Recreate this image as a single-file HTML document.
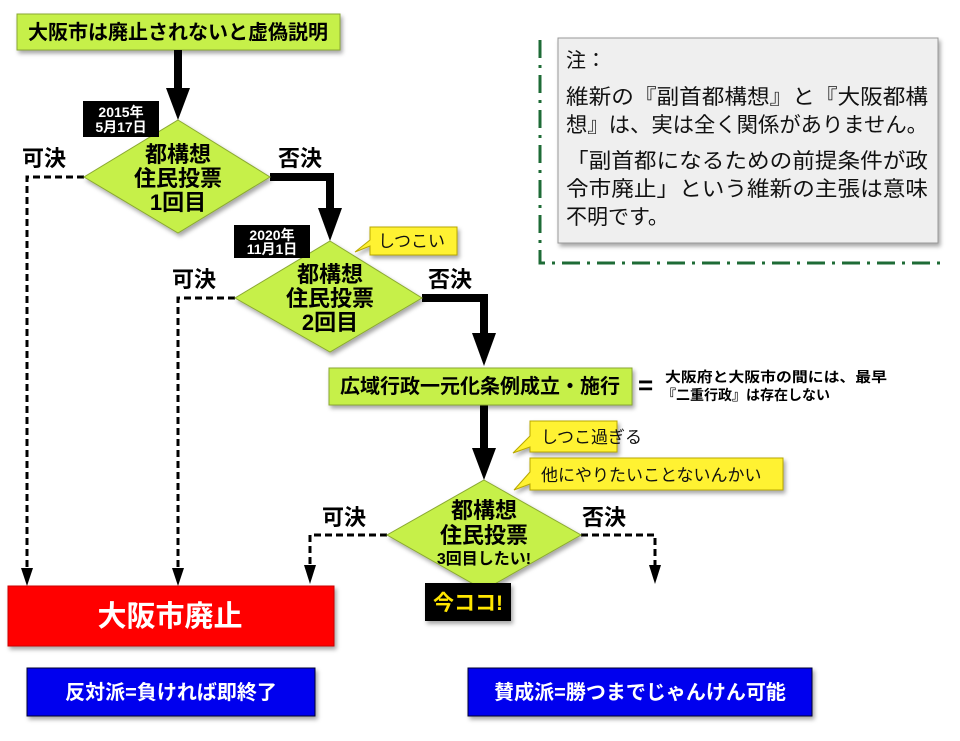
<!DOCTYPE html>
<html><head><meta charset="utf-8"><style>
body{margin:0;background:#fff;}
svg{display:block;font-family:"Liberation Sans","Noto Sans CJK JP",sans-serif;}
</style></head><body>
<svg width="960" height="741" viewBox="0 0 960 741" xmlns="http://www.w3.org/2000/svg">
<defs>
<filter id="sh" x="-10%" y="-10%" width="130%" height="140%"><feDropShadow dx="2" dy="3" stdDeviation="2" flood-color="#000" flood-opacity="0.35"/></filter>
</defs>
<rect width="960" height="741" fill="#fff"/>

<!-- note -->
<path d="M540 40 V263 H940" fill="none" stroke="#1e6b36" stroke-width="3" stroke-dasharray="18,7,3,7"/>
<rect x="558" y="38" width="380" height="205" fill="#efefef" stroke="#999" filter="url(#sh)"/>
<g font-size="21" fill="#111">
<text x="566" y="67" font-size="20">注：</text>
<text x="566" y="104" textLength="362" lengthAdjust="spacingAndGlyphs">維新の『副首都構想』と『大阪都構</text>
<text x="566" y="132" textLength="362" lengthAdjust="spacingAndGlyphs">想』は、実は全く関係がありません。</text>
<text x="566" y="168" textLength="362" lengthAdjust="spacingAndGlyphs">「副首都になるための前提条件が政</text>
<text x="566" y="196" textLength="362" lengthAdjust="spacingAndGlyphs">令市廃止」という維新の主張は意味</text>
<text x="566" y="224">不明です。</text>
</g>

<!-- top box -->
<rect x="17" y="14" width="323" height="36" fill="#c6f04a" stroke="#8aa830" filter="url(#sh)"/>
<text x="178" y="39" font-size="20" font-weight="bold" text-anchor="middle" textLength="300" lengthAdjust="spacingAndGlyphs">大阪市は廃止されないと虚偽説明</text>

<!-- solid arrows -->
<g stroke="#000" stroke-width="8" fill="none">
<path d="M178 50 V92"/>
<path d="M270 177 H330 V210"/>
<path d="M422 298 H484 V335"/>
<path d="M484 405 V450"/>
</g>
<g fill="#000">
<polygon points="166,88 190,88 178,120"/>
<polygon points="318,208 342,208 330,241"/>
<polygon points="472,333 496,333 484,366"/>
<polygon points="472,448 496,448 484,480"/>
</g>

<!-- dashed -->
<g stroke="#000" stroke-width="3" fill="none" stroke-dasharray="7,4">
<path d="M84 177 H27 V570"/>
<path d="M235 298 H178 V570"/>
<path d="M387 535 H310 V565"/>
<path d="M581 535 H655 V565"/>
</g>
<g fill="#000">
<polygon points="21,568 33,568 27,586"/>
<polygon points="172,568 184,568 178,586"/>
<polygon points="304,565 316,565 310,584"/>
<polygon points="649,565 661,565 655,584"/>
</g>

<!-- diamonds -->
<polygon points="178,120 270,177 178,233 84,177" fill="#c6f04a" stroke="#8aa830" filter="url(#sh)"/>
<polygon points="330,241 422,298 330,352 235,298" fill="#c6f04a" stroke="#8aa830" filter="url(#sh)"/>
<polygon points="484,480 581,535 484,590 387,535" fill="#c6f04a" stroke="#8aa830" filter="url(#sh)"/>
<g font-size="22" font-weight="bold" text-anchor="middle">
<text x="178" y="162">都構想</text><text x="178" y="186">住民投票</text><text x="178" y="210">1回目</text>
<text x="330" y="282">都構想</text><text x="330" y="306">住民投票</text><text x="330" y="330">2回目</text>
<text x="484" y="518">都構想</text><text x="484" y="543">住民投票</text>
<text x="484" y="564" font-size="16">3回目したい!</text>
</g>

<!-- dates -->
<rect x="83" y="101" width="76" height="36" fill="#000"/>
<text x="121" y="117" font-size="14" font-weight="bold" fill="#fff" text-anchor="middle">2015年</text>
<text x="121" y="132" font-size="14" font-weight="bold" fill="#fff" text-anchor="middle">5月17日</text>
<rect x="234" y="225" width="76" height="33" fill="#000"/>
<text x="272" y="240" font-size="14" font-weight="bold" fill="#fff" text-anchor="middle">2020年</text>
<text x="272" y="254" font-size="14" font-weight="bold" fill="#fff" text-anchor="middle">11月1日</text>

<!-- labels -->
<g font-size="22" font-weight="bold">
<text x="22" y="166">可決</text><text x="278" y="166">否決</text>
<text x="172" y="287">可決</text><text x="428" y="287">否決</text>
<text x="322" y="525">可決</text><text x="582" y="525">否決</text>
</g>

<!-- callouts -->
<g fill="#fff233" stroke="#b8a800" filter="url(#sh)">
<path d="M370 227 H457 V255 H370 V246 L355 252 L370 240 Z"/>
<path d="M530 421 H617 V452 H530 V447 L513 453 L530 436 Z"/>
<path d="M530 458 H783 V490 H530 V484 L514 490 L530 472 Z"/>
</g>
<g font-size="17" fill="#111">
<text x="378" y="247">しつこい</text>
<text x="541" y="443">しつこ過ぎる</text>
<text x="541" y="481">他にやりたいことないんかい</text>
</g>

<!-- box3 -->
<rect x="329" y="368" width="303" height="37" fill="#c6f04a" stroke="#8aa830" filter="url(#sh)"/>
<text x="480" y="393" font-size="20" font-weight="bold" text-anchor="middle" textLength="280" lengthAdjust="spacingAndGlyphs">広域行政一元化条例成立・施行</text>
<text x="638" y="394" font-size="26" font-weight="bold">=</text>
<text x="665" y="382" font-size="14" font-weight="bold" textLength="222" lengthAdjust="spacingAndGlyphs">大阪府と大阪市の間には、最早</text>
<text x="662" y="400" font-size="14" font-weight="bold">『二重行政』は存在しない</text>

<!-- now here -->
<rect x="425" y="583" width="86" height="38" fill="#000" filter="url(#sh)"/>
<text x="468" y="610" font-size="21" font-weight="bold" fill="#ffe600" text-anchor="middle">今ココ!</text>

<!-- red -->
<rect x="8" y="586" width="326" height="60" fill="#ff0000" stroke="#c00" filter="url(#sh)"/>
<text x="170" y="626" font-size="29" font-weight="bold" fill="#fff" text-anchor="middle">大阪市廃止</text>

<!-- blue -->
<rect x="27" y="668" width="288" height="48" fill="#0000ee" stroke="#003" filter="url(#sh)"/>
<text x="171" y="699" font-size="20" font-weight="bold" fill="#fff" text-anchor="middle">反対派=負ければ即終了</text>
<rect x="468" y="668" width="344" height="48" fill="#0000ee" stroke="#003" filter="url(#sh)"/>
<text x="640" y="699" font-size="20" font-weight="bold" fill="#fff" text-anchor="middle">賛成派=勝つまでじゃんけん可能</text>
</svg>
</body></html>
